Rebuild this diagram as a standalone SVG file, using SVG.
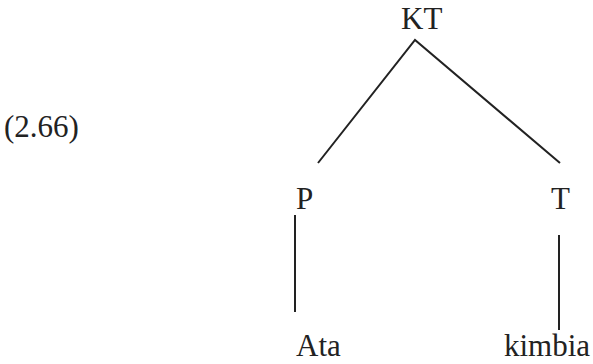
<svg xmlns="http://www.w3.org/2000/svg" width="593" height="364" viewBox="0 0 593 364">
<style>
text{font-family:"Liberation Serif","Times New Roman",serif;font-size:31px;fill:#222}
.e{stroke:#222;stroke-width:2;fill:none}
</style>
<rect width="593" height="364" fill="#fff"/>
<text id="label" x="4" y="137">(2.66)</text>
<g id="edges">
<polyline class="e" points="318,163 415,40 560,163"/>
<line class="e" x1="295" y1="215" x2="295" y2="312"/>
<line class="e" x1="559" y1="235" x2="559" y2="330"/>
</g>
<g id="n-KT"><text x="401" y="29">KT</text></g>
<g id="n-P"><text x="296" y="209">P</text></g>
<g id="n-T"><text x="551" y="209">T</text></g>
<g id="n-Ata"><text x="296" y="356">Ata</text></g>
<g id="n-kimbia"><text x="504" y="356">kimbia</text></g>
</svg>
